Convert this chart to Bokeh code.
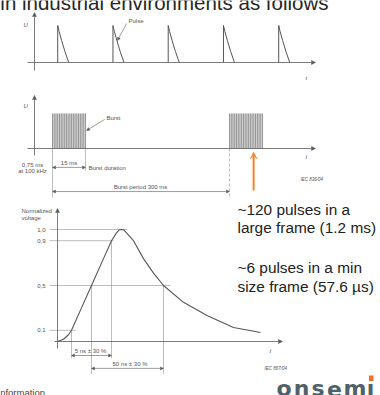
from bokeh.plotting import figure
from bokeh.models import Range1d, Arrow, NormalHead, VeeHead
from bokeh.core.properties import value
from bokeh.embed import file_html
from bokeh.resources import INLINE

W, H = 380, 395

# ---------------- data ----------------
title_text = "in industrial environments as follows"

# diagram 1: single pulses (µs)
pulse_times_us = [4.2, 14.2, 24.2, 34.2, 44.2]
pulse_shape_dt_us = [0.0, 0.0, 0.25, 0.7, 1.3, 2.0]
pulse_shape_v = [0.0, 1.0, 0.84, 0.6, 0.3, 0.0]

# diagram 2: bursts (ms, schematic burst width as drawn in the IEC figure)
burst_starts_ms = [0, 300]
burst_draw_width_ms = 56
burst_lines_per_frame = 20
burst_period_ms = 300

# diagram 3: normalized pulse waveform (schematic time units)
wave_t = [0, 6, 11, 14, 24, 34, 44, 54, 59, 61.5, 64, 66.5, 69, 76, 86, 96, 106, 126, 150, 176, 203]
wave_v = [0.0, 0.02, 0.06, 0.10, 0.30, 0.50, 0.70, 0.90, 0.97, 0.995, 1.0, 0.995, 0.97, 0.90,
          0.74, 0.61, 0.50, 0.35, 0.23, 0.125, 0.08]
level_values = [1.0, 0.9, 0.5, 0.1]
level_labels = ["1,0", "0,9", "0,5", "0,1"]
level_line_end = [70, 56, 113, 18]
rise_points = [14, 54]      # 10 % and 90 % crossings
width_points = [34, 106]    # 50 % crossings

note_lines = ["~120 pulses in a", "large frame (1.2 ms)", "~6 pulses in a min", "size frame (57.6 µs)"]
logo_letters = ["o", "n", "s", "e", "m", "ı"]

# ---------------- figure ----------------
p = figure(width=W, height=H, x_range=Range1d(0, W), y_range=Range1d(H, 0),
           output_backend="svg", toolbar_location=None, min_border=0,
           x_axis_location=None, y_axis_location=None)
p.grid.visible = False
p.outline_line_color = None
p.background_fill_color = "white"
p.border_fill_color = "white"


def xr(px0, scale):
    return Range1d(-px0 / scale, (W - px0) / scale)


def yr(py0, scale):
    return Range1d(-(H - py0) / scale, py0 / scale)


p.extra_x_ranges = {"p1": xr(34, 5.525), "p2": xr(52, 0.59), "p3": xr(57, 1.0)}
p.extra_y_ranges = {"p1": yr(62, 37), "p2": yr(148, 35), "p3": yr(341, 112)}

AX = "#5a5a5a"
LN = "#555555"
GL = "#a0a0a0"
TX = "#555555"
FONT = "Liberation Sans"


def txt(x, y, s, size, align="left", baseline="middle", color=TX, style="normal",
        font=FONT, rng=None):
    kw = {}
    if rng:
        kw = dict(x_range_name=rng, y_range_name=rng)
    p.text(x=[x], y=[y], text=[s], text_font=value(font), text_font_size=value(f"{size}px"),
           text_align=align, text_baseline=baseline, text_color=color,
           text_font_style=style, **kw)


def arrow(x0, y0, x1, y1, head="normal", both=False, color=AX, width=0.8, size=4, rng=None,
          dash="solid"):
    def mk():
        if head == "normal":
            return NormalHead(size=size, fill_color=color, line_color=color, line_width=0.5)
        return VeeHead(size=size, fill_color=color, line_color=color, line_width=0.5)
    kw = {}
    if rng:
        kw = dict(x_range_name=rng, y_range_name=rng)
    a = Arrow(x_start=x0, y_start=y0, x_end=x1, y_end=y1, end=mk(), start=mk() if both else None,
              line_color=color, line_width=width, line_dash=dash, **kw)
    p.add_layout(a)


# ---------------- title ----------------
txt(328, 2, title_text, 20.5, align="right", baseline="alphabetic", color="#262626")

# ---------------- diagram 1 ----------------
arrow(34, 70, 34, 12)
arrow(27, 62, 315, 62)
xs = [[t + d for d in pulse_shape_dt_us] for t in pulse_times_us]
ys = [pulse_shape_v for _ in pulse_times_us]
p.multi_line(xs, ys, x_range_name="p1", y_range_name="p1", line_color=LN, line_width=1.0)
txt(23, 24, "U", 6, style="italic")
txt(305, 77, "t", 6, style="italic")
txt(128, 20, "Pulse", 6)
arrow(126, 23, 117, 40, size=3, width=0.6)

# ---------------- diagram 2 ----------------
arrow(34, 155, 34, 95)
arrow(27, 148, 315, 148)
p.quad(left=burst_starts_ms, right=[s + burst_draw_width_ms for s in burst_starts_ms],
       bottom=0, top=1, fill_color="#e2e2e2", line_color=None,
       x_range_name="p2", y_range_name="p2")
bx, by0, by1 = [], [], []
for s in burst_starts_ms:
    for i in range(burst_lines_per_frame):
        bx.append(s + i * burst_draw_width_ms / (burst_lines_per_frame - 1))
        by0.append(0)
        by1.append(1)
p.segment(x0=bx, y0=by0, x1=bx, y1=by1, line_color="#707070", line_width=0.7,
          x_range_name="p2", y_range_name="p2")
# extension lines
b0, b1 = burst_starts_ms
p.segment(x0=[b0, b0 + burst_draw_width_ms], y0=[0, 0], x1=[b0, b0 + burst_draw_width_ms],
          y1=[-1.4, -0.63], line_color=GL, line_width=0.7, x_range_name="p2", y_range_name="p2")
p.segment(x0=[b1], y0=[0], x1=[b1], y1=[-1.4], line_color=GL, line_width=0.7, line_dash="3 2",
          x_range_name="p2", y_range_name="p2")
arrow(b0, -0.54, b0 + burst_draw_width_ms, -0.54, both=True, size=3, width=0.6, rng="p2")
arrow(b0, -1.23, b0 + burst_period_ms, -1.23, both=True, size=3, width=0.6, rng="p2")
arrow(b1 + 0.73 * burst_draw_width_ms, -1.2, b1 + 0.73 * burst_draw_width_ms, -0.1,
      head="vee", color="#f4822a", width=2, size=7, rng="p2")
txt(23, 105, "U", 6, style="italic")
txt(305, 156, "t", 6, style="italic")
txt(106, 117, "Burst", 6)
arrow(104, 119, 86, 130, size=3, width=0.6)
txt(32, 164, "0,75 ms", 6, align="center")
txt(32, 170.5, "at 100 kHz", 6, align="center")
txt(68.5, 162.5, "15 ms", 6, align="center")
txt(88, 167.5, "Burst duration", 6)
txt(140, 186.5, "Burst period 300 ms", 6, align="center")
txt(300, 179, "IEC   836/04", 4.5, style="italic")

# ---------------- diagram 3 ----------------
arrow(57, 348, 57, 208)
arrow(54, 341, 282, 341)
p.segment(x0=[-8] * 4, y0=level_values, x1=level_line_end, y1=level_values,
          line_color=GL, line_width=0.7, x_range_name="p3", y_range_name="p3")
p.segment(x0=rise_points, y0=[0.1, 0.9], x1=rise_points, y1=[-0.15, -0.15],
          line_color=GL, line_width=0.7, x_range_name="p3", y_range_name="p3")
p.segment(x0=width_points, y0=[0.5, 0.5], x1=width_points, y1=[-0.29, -0.29],
          line_color=GL, line_width=0.7, x_range_name="p3", y_range_name="p3")
p.line(wave_t, wave_v, line_color=LN, line_width=1.1, x_range_name="p3", y_range_name="p3")
arrow(rise_points[0], -0.125, rise_points[1], -0.125, both=True, size=3, width=0.6, rng="p3")
arrow(width_points[0], -0.24, width_points[1], -0.24, both=True, size=3, width=0.6, rng="p3")
p.text(x=[-12] * 4, y=level_values, text=level_labels, text_font=value(FONT),
       text_font_size=value("6px"), text_align="right", text_baseline="middle",
       text_color=TX, x_range_name="p3", y_range_name="p3")
txt(21, 210, "Normalized", 6)
txt(21, 217.5, "voltage", 6)
txt(269, 350, "t", 6, style="italic")
txt(90, 350, "5 ns ± 30 %", 6, align="center")
txt(129.5, 363, "50 ns ± 30 %", 6, align="center")
txt(264, 368, "IEC   867/04", 4.5, style="italic")

# ---------------- slide notes ----------------
for s, y in zip(note_lines, [209, 227, 267, 286]):
    txt(237, y, s, 15.4, color="#222222")

txt(-3, 392, "Information", 9.5, baseline="alphabetic", color="#444444")

# ---------------- logo ----------------
for ch, x in zip(logo_letters, [283.5, 301, 317.5, 334, 354.5, 370]):
    txt(x, 388, ch, 22, align="center", baseline="alphabetic", color="#4f6169",
        font="DejaVu Sans", style="bold")
p.quad(left=[368.5], right=[373], top=[375], bottom=[380.5], fill_color="#f37021", line_color=None)

open("out.html", "w").write(file_html(p, INLINE))
